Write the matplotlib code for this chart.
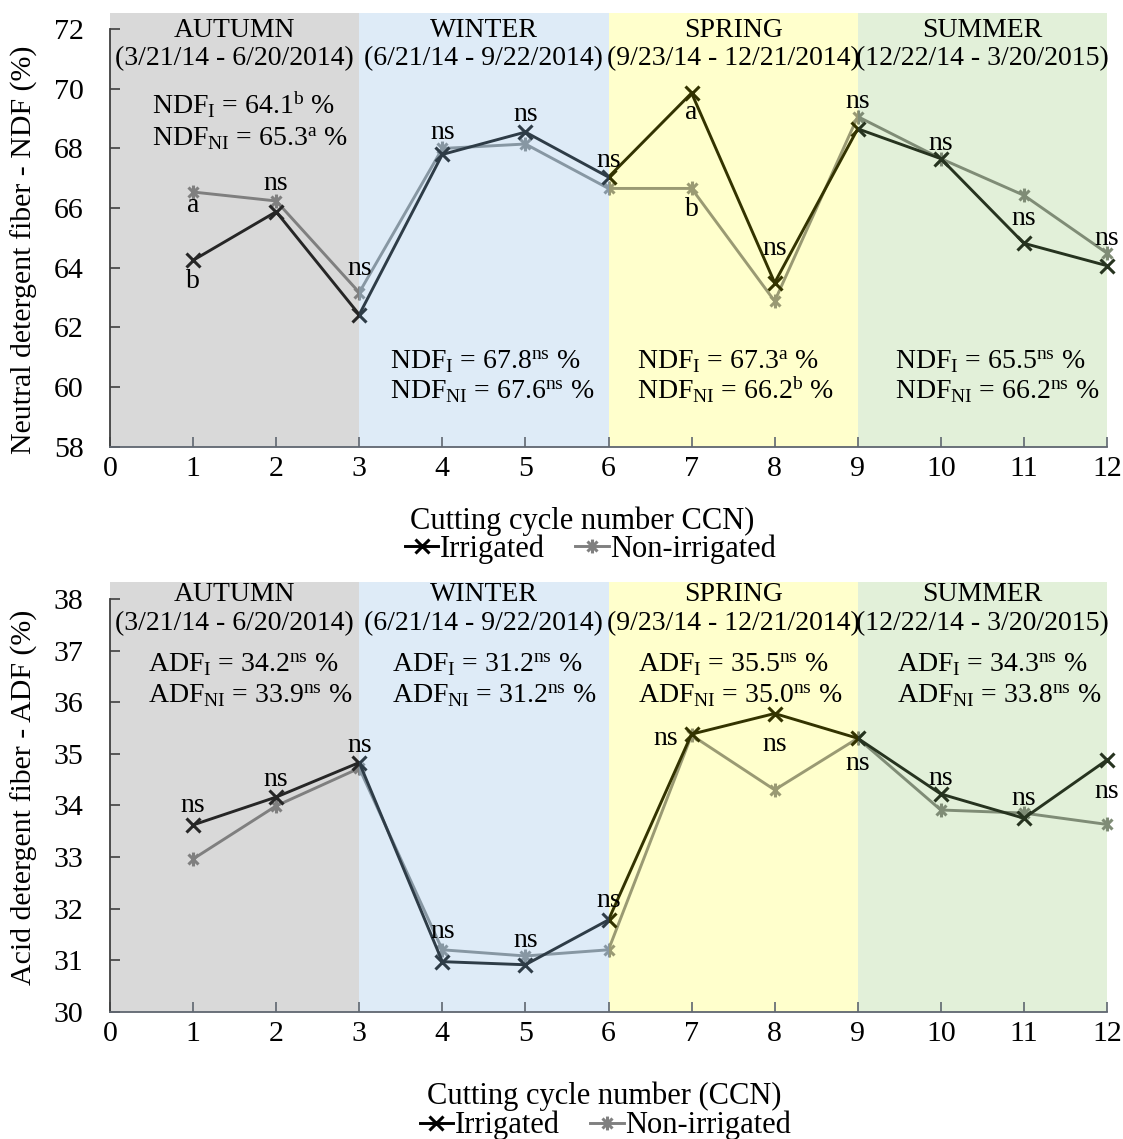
import matplotlib
matplotlib.use('Agg')
import matplotlib.pyplot as plt
from matplotlib.patches import Rectangle
from matplotlib.path import Path
from matplotlib.lines import Line2D

plt.rcParams['font.family'] = ['Liberation Serif', 'DejaVu Serif']
plt.rcParams['mathtext.fontset'] = 'custom'
plt.rcParams['mathtext.rm'] = 'Liberation Serif'
plt.rcParams['mathtext.it'] = 'Liberation Serif:italic'
plt.rcParams['mathtext.bf'] = 'Liberation Serif:bold'

# ---------------- data ----------------
ccn = [1, 2, 3, 4, 5, 6, 7, 8, 9, 10, 11, 12]
x_ticks = [0, 1, 2, 3, 4, 5, 6, 7, 8, 9, 10, 11, 12]

ndf_irrigated = [64.25, 65.88, 62.43, 67.8, 68.55, 67.04, 69.86, 63.5, 68.66, 67.66, 64.82, 64.07]
ndf_nonirrigated = [66.54, 66.24, 63.17, 68.0, 68.15, 66.66, 66.66, 62.88, 69.07, 67.66, 66.43, 64.49]
adf_irrigated = [33.62, 34.16, 34.83, 30.97, 30.91, 31.78, 35.38, 35.78, 35.30, 34.22, 33.75, 34.88]
adf_nonirrigated = [32.96, 33.99, 34.72, 31.20, 31.08, 31.20, 35.36, 34.30, 35.30, 33.91, 33.85, 33.63]

seasons = ['AUTUMN', 'WINTER', 'SPRING', 'SUMMER']
season_dates = ['(3/21/14 - 6/20/2014)', '(6/21/14 - 9/22/2014)',
                '(9/23/14 - 12/21/2014)', '(12/22/14 - 3/20/2015)']
season_bounds = [(0, 3), (3, 6), (6, 9), (9, 12)]

ndf_i_means = ['64.1', '67.8', '67.3', '65.5']
ndf_i_sig = ['b', 'ns', 'a', 'ns']
ndf_ni_means = ['65.3', '67.6', '66.2', '66.2']
ndf_ni_sig = ['a', 'ns', 'b', 'ns']
adf_i_means = ['34.2', '31.2', '35.5', '34.3']
adf_i_sig = ['ns', 'ns', 'ns', 'ns']
adf_ni_means = ['33.9', '31.2', '35.0', '33.8']
adf_ni_sig = ['ns', 'ns', 'ns', 'ns']

# point significance labels: (ccn, series it is attached to, text)
ndf_point_labels = [(1, 'NI', 'a'), (1, 'I', 'b'), (2, 'NI', 'ns'), (3, 'NI', 'ns'),
                    (4, 'NI', 'ns'), (5, 'I', 'ns'), (6, 'I', 'ns'), (7, 'I', 'a'),
                    (7, 'NI', 'b'), (8, 'I', 'ns'), (9, 'NI', 'ns'), (10, 'I', 'ns'),
                    (11, 'I', 'ns'), (12, 'NI', 'ns')]
adf_point_labels = [(1, 'I', 'ns'), (2, 'I', 'ns'), (3, 'I', 'ns'), (4, 'NI', 'ns'),
                    (5, 'NI', 'ns'), (6, 'I', 'ns'), (7, 'I', 'ns'), (8, 'I', 'ns'),
                    (9, 'I', 'ns'), (10, 'I', 'ns'), (11, 'NI', 'ns'), (12, 'I', 'ns')]

# ---------------- style / layout ----------------
ndf_label_offsets = [(0, -20), (0, -28), (0, 11), (0, 18), (0, 9), (0, 11), (0, 10),
                     (0, -26), (0, -28), (0, 28), (0, 9), (0, 9), (0, 18), (0, 8)]
adf_label_offsets = [(0, 13), (0, 11), (0, 11), (0, 12), (0, 9), (0, 13), (-14, -11),
                     (0, -37), (0, -32), (0, 9), (0, 8), (0, -38)]

bg_colors = ['#d9d9d9', '#deebf7', '#ffffcc', '#e2f0d9']
dark_colors = ['#262626', '#2e3c47', '#333300', '#26331f']
gray_colors = ['#7f7f7f', '#8797a3', '#9a9a73', '#7f8c76']

FS = 20
FS_TICK = 21.5
FS_XLAB = 22
FS_YLAB = 21.5
FS_LEG = 22

star_path = Path([(0, -1), (0, 1), (-0.72, -0.72), (0.72, 0.72), (-0.72, 0.72), (0.72, -0.72)],
                 [Path.MOVETO, Path.LINETO] * 3)

fig = plt.figure(figsize=(11.23, 11.39), dpi=100)
W, H = 1123.0, 1139.0
ax1 = fig.add_axes([110 / W, 1 - 446.7 / H, 997 / W, 433.4 / H])
ax2 = fig.add_axes([110 / W, 1 - 1011.7 / H, 997 / W, 430.0 / H])


def draw_panel(ax, yi, yni, ylo, yhi, ytop, ystep, ylabel, xlabel, tag,
               i_means, i_sig, ni_means, ni_sig, point_labels, offsets,
               header_y, stats_x, stats_y, xlabel_pos, legend_pos, ylabel_y):
    ax.set_xlim(0, 12)
    ax.set_ylim(ylo, ytop)
    for (x0, x1), c in zip(season_bounds, bg_colors):
        ax.axvspan(x0, x1, color=c, lw=0, zorder=0)

    for k, (x0, x1) in enumerate(season_bounds):
        cx0 = x0 - (0.5 if k == 0 else 0)
        cx1 = x1 + (0.5 if k == 3 else 0)
        for ys, col, mk in ((yni, gray_colors[k], star_path), (yi, dark_colors[k], 'x')):
            ln, = ax.plot(ccn, ys, color=col, lw=2.1, marker=mk, ms=10, mew=2.2,
                          mfc='none', mec=col, zorder=3)
            rect = Rectangle((cx0, ylo - 100), cx1 - cx0, 300,
                             transform=ax.transData)
            ln.set_clip_path(rect)

    # point labels
    for (c, s, t), (dx, dy) in zip(point_labels, offsets):
        yv = (yi if s == 'I' else yni)[c - 1]
        ha = 'right' if dx < 0 else 'center'
        ax.annotate(t, (c, yv), xytext=(dx, dy), textcoords='offset pixels',
                    ha=ha, va='baseline', fontsize=FS, zorder=5)

    # season headers
    for k, (x0, x1) in enumerate(season_bounds):
        cx = (x0 + x1) / 2
        ax.text(cx, header_y[0], seasons[k], ha='center', va='baseline', fontsize=FS)
        ax.text(cx, header_y[1], season_dates[k], ha='center', va='baseline', fontsize=FS)

    # stats
    for k in range(4):
        sy = stats_y[k]
        ax.text(stats_x[k], sy[0],
                tag + r'$_{\mathrm{I}}$ = ' + i_means[k] + r'$^{\mathrm{' + i_sig[k] + r'}}$ %',
                ha='left', va='baseline', fontsize=FS)
        ax.text(stats_x[k], sy[1],
                tag + r'$_{\mathrm{NI}}$ = ' + ni_means[k] + r'$^{\mathrm{' + ni_sig[k] + r'}}$ %',
                ha='left', va='baseline', fontsize=FS)

    ax.spines['top'].set_visible(False)
    ax.spines['right'].set_visible(False)
    ax.spines['left'].set_bounds(ylo, yhi)
    ax.spines['left'].set_color('#404040')
    ax.spines['bottom'].set_color('#5f6670')
    ax.spines['left'].set_linewidth(1.3)
    ax.spines['bottom'].set_linewidth(1.3)
    ax.set_xticks(x_ticks)
    yt = list(range(ylo, yhi + 1, ystep))
    ax.set_yticks(yt)
    ax.tick_params(axis='x', direction='in', length=7, width=1.2, colors='#5f6670',
                   labelcolor='black', labelsize=FS_TICK, pad=7)
    ax.tick_params(axis='y', direction='in', length=7, width=1.2, colors='#404040',
                   labelcolor='black', labelsize=FS_TICK, pad=19)
    ax.set_xlabel(xlabel, fontsize=FS_XLAB)
    ax.xaxis.set_label_coords(xlabel_pos[0], xlabel_pos[1])
    ax.set_ylabel(ylabel, fontsize=FS_YLAB)
    ax.yaxis.set_label_coords(-0.072, ylabel_y)

    handles = [Line2D([], [], color='black', lw=2.1, marker='x', ms=10, mew=2.2),
               Line2D([], [], color='#808080', lw=2.1, marker=star_path, ms=10, mew=2.2,
                      mfc='none')]
    ax.legend(handles, ['Irrigated', 'Non-irrigated'], loc='center',
              bbox_to_anchor=legend_pos, ncol=2, frameon=False, fontsize=FS_LEG,
              handlelength=1.1, handletextpad=0.05, columnspacing=1.0,
              borderpad=0.1)


draw_panel(ax1, ndf_irrigated, ndf_nonirrigated, 58, 72, 72.533, 2,
           'Neutral detergent fiber - NDF (%)', 'Cutting cycle number CCN)', 'NDF',
           ndf_i_means, ndf_i_sig, ndf_ni_means, ndf_ni_sig,
           ndf_point_labels, ndf_label_offsets,
           header_y=(71.74, 70.81),
           stats_x=[0.505, 3.37, 6.34, 9.45],
           stats_y=[(69.14, 68.09), (60.60, 59.60), (60.60, 59.60), (60.60, 59.60)],
           xlabel_pos=(0.474, -0.137), legend_pos=(0.482, -0.236), ylabel_y=0.455)

draw_panel(ax2, adf_irrigated, adf_nonirrigated, 30, 38, 38.335, 1,
           'Acid detergent fiber - ADF (%)', 'Cutting cycle number (CCN)', 'ADF',
           adf_i_means, adf_i_sig, adf_ni_means, adf_ni_sig,
           adf_point_labels, adf_label_offsets,
           header_y=(37.96, 37.40),
           stats_x=[0.457, 3.39, 6.35, 9.47],
           stats_y=[(36.59, 35.99)] * 4,
           xlabel_pos=(0.496, -0.163), legend_pos=(0.497, -0.265), ylabel_y=0.498)

fig.savefig('out.png', dpi=100)
